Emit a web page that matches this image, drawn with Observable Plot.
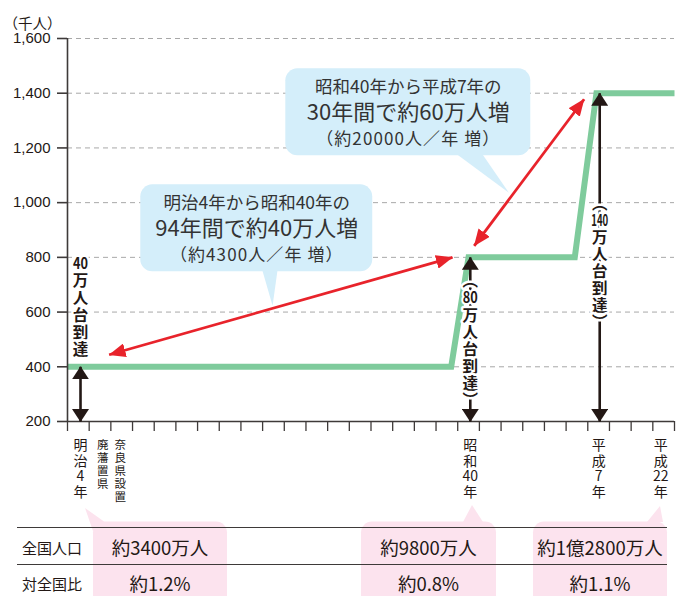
<!DOCTYPE html>
<html>
<head>
<meta charset="utf-8">
<script src="https://cdn.jsdelivr.net/npm/d3@7"></script>
<script src="https://cdn.jsdelivr.net/npm/@observablehq/plot@0.6"></script>
<style>
  html, body { margin: 0; padding: 0; background: #fff; }
  #wrap { position: relative; width: 688px; height: 596px; overflow: hidden; font-family: "Noto Sans CJK JP", sans-serif; color: #231815; }
  #chart { position: absolute; left: 0; top: 0; }
  #table { position: absolute; left: 0; top: 0; width: 688px; height: 596px; }
  .cell { position: absolute; transform: translate(-50%, -50%); white-space: nowrap; }
  .rowlab { position: absolute; transform: translateY(-50%); font-size: 15px; white-space: nowrap; }
  .val { font-size: 18.5px; }
  .hline { position: absolute; left: 17px; width: 650px; height: 1.2px; background: #3e3a39; }
</style>
</head>
<body>
<div id="wrap">
  <div id="chart"></div>
  <div id="table"></div>
</div>
<script>
// ---------- data ----------
const yTicks = [200, 400, 600, 800, 1000, 1200, 1400, 1600];
const gridY = [400, 600, 800, 1000, 1200, 1400, 1600];
const xTicks = d3.range(0, 29);

// population step line (thousand people), x = schematic time index
const stepX = [0, 17.7, 18.5, 23.4, 24.4, 28];
const stepY = [400, 400, 800, 800, 1400, 1400];

// x labels
const eraLabels = ["明治4年", "昭和40年", "平成7年", "平成22年"];
const eraX = [0.6, 18.58, 24.5, 27.37];
const eventLabels = ["廃藩置県", "奈良県設置"];
const eventX = [1.63, 2.43];

// black "reached" arrows
const reachX = [0.6, 18.58, 24.55];
const reachTop = [400, 800, 1400];
const reachBottom = [200, 200, 200];
const reachLabels = ["40万人台到達", "（80万人台到達）", "（140万人台到達）"];
const reachLabelTop = [800, 738, 1022];

// red double arrows
const redX1 = [1.92, 18.76], redY1 = [444, 842];
const redX2 = [17.76, 23.83], redY2 = [800, 1378];

// callouts
const calloutX1 = [3.38, 10.07], calloutX2 = [14.08, 21.37];
const calloutY1 = [747, 1171], calloutY2 = [1065, 1489];
const calloutLine1 = ["明治4年から昭和40年の", "昭和40年から平成7年の"];
const calloutLine2 = ["94年間で約40万人増", "30年間で約60万人増"];
const calloutLine3 = ["（約4300人／年 増）", "（約20000人／年 増）"];
const tailX = [[8.96, 9.70, 9.46], [17.82, 19.07, 20.36]];
const tailY = [[760, 760, 623], [1185, 1185, 1036]];

// table
const rowLabels = ["全国人口", "対全国比"];
const nationalPop = ["約3400万人", "約9800万人", "約1億2800万人"];
const shareOfNation = ["約1.2%", "約0.8%", "約1.1%"];

// ---------- helpers ----------
const NS = "http://www.w3.org/2000/svg";
function vert(s) {
  return s.replace("（", "︵").replace("）", "︶").match(/[0-9]+|./gu).join("\n");
}
function headMarker(len, wid) {
  return (color, context) => {
    const doc = (context && context.document) || document;
    const m = doc.createElementNS(NS, "marker");
    m.setAttribute("viewBox", `0 ${-wid / 2} ${len} ${wid}`);
    m.setAttribute("markerUnits", "userSpaceOnUse");
    m.setAttribute("markerWidth", len);
    m.setAttribute("markerHeight", wid);
    m.setAttribute("refX", len - 0.5);
    m.setAttribute("refY", 0);
    m.setAttribute("orient", "auto-start-reverse");
    m.setAttribute("fill", color);
    m.setAttribute("stroke", "none");
    const p = doc.createElementNS(NS, "path");
    p.setAttribute("d", `M0,${-wid / 2}L${len},0L0,${wid / 2}Z`);
    m.appendChild(p);
    return m;
  };
}
function safeLink(data, opts, len, wid) {
  try {
    return Plot.link(data, {...opts, markerStart: headMarker(len, wid), markerEnd: headMarker(len, wid)});
  } catch (e) {
    return Plot.link(data, {...opts, markerStart: "arrow", markerEnd: "arrow"});
  }
}

// ---------- tables for marks ----------
const step = stepX.map((x, i) => ({x, y: stepY[i]}));
const eras = eraLabels.map((t, i) => ({x: eraX[i], t: vert(t)}));
const events = eventLabels.map((t, i) => ({x: eventX[i], t: vert(t)}));
const reach = reachX.map((x, i) => ({x, y1: reachTop[i], y2: reachBottom[i], t: vert(reachLabels[i]), ty: reachLabelTop[i]}));
const reds = redX1.map((x, i) => ({x1: x, y1: redY1[i], x2: redX2[i], y2: redY2[i]}));
const callouts = calloutX1.map((x1, i) => ({
  x1, x2: calloutX2[i], y1: calloutY1[i], y2: calloutY2[i],
  cx: (x1 + calloutX2[i]) / 2, cy: (calloutY1[i] + calloutY2[i]) / 2,
  l1: calloutLine1[i], l2: calloutLine2[i], l3: calloutLine3[i]
}));
const tails = tailX.flatMap((xs, k) => xs.map((x, j) => ({k, x, y: tailY[k][j]})));

const ink = "#231815";
const blue = "#d4eefa";
const cjk = "Noto Sans CJK JP";

const plot = Plot.plot({
  width: 688,
  height: 505,
  marginLeft: 67,
  marginRight: 14,
  marginTop: 38,
  marginBottom: 84,
  x: {type: "linear", domain: [0, 28], axis: null},
  y: {domain: [200, 1600], axis: null},
  style: {fontFamily: cjk, color: ink, background: "white", overflow: "visible"},
  marks: [
    Plot.ruleY(gridY, {stroke: "#a8a8a8", strokeWidth: 1, strokeDasharray: "5,4"}),
    // callouts
    Plot.rect(callouts, {x1: "x1", x2: "x2", y1: "y1", y2: "y2", fill: blue, rx: 12}),
    Plot.line(tails, {x: "x", y: "y", z: "k", fill: blue, stroke: null, curve: "linear-closed"}),
    Plot.text(callouts, {x: "cx", y: "cy", text: "l1", dy: -25, fontSize: 17.5, fill: "#333"}),
    Plot.text(callouts, {x: "cx", y: "cy", text: "l2", dy: 1, fontSize: 22, fill: "#333"}),
    Plot.text(callouts, {x: "cx", y: "cy", text: "l3", dy: 27.5, fontSize: 17, fill: "#333"}),
    // population line
    Plot.line(step, {x: "x", y: "y", stroke: "#7fcb9c", strokeWidth: 6, strokeLinejoin: "miter", strokeLinecap: "butt", strokeMiterlimit: 4}),
    // axes
    Plot.ruleX([0], {y1: 200, y2: 1600, stroke: "#3e3a39", strokeWidth: 1.6}),
    Plot.ruleY([200], {stroke: "#3e3a39", strokeWidth: 1.6}),
    Plot.axisY({ticks: yTicks, tickFormat: d3.format(","), tickSize: 10, tickPadding: 7, fontSize: 15, fontFamily: "Liberation Sans", stroke: "#3e3a39", strokeWidth: 1.6, color: ink, label: null}),
    Plot.axisX({ticks: xTicks, tickFormat: () => "", tickSize: 10, tickPadding: 0, stroke: "#3e3a39", strokeWidth: 1.3, label: null}),
    Plot.text(["（千人）"], {frameAnchor: "top-left", dx: -64, dy: -20, textAnchor: "start", fontSize: 14.5, fill: ink}),
    // x labels
    Plot.text(eras, {x: "x", y: 200, text: "t", lineAnchor: "top", dy: 18, fontSize: 14, lineHeight: 1.1, fill: ink}),
    Plot.text(events, {x: "x", y: 200, text: "t", lineAnchor: "top", dy: 18, fontSize: 11.5, lineHeight: 1.13, fill: ink}),
    // black arrows
    safeLink(reach, {x1: "x", x2: "x", y1: "y1", y2: "y2", stroke: ink, strokeWidth: 2.6}, 13, 17),
    Plot.text(reach, {x: "x", y: "ty", text: "t", lineAnchor: "top", fontSize: 15.5, lineHeight: 1.1, fontWeight: "bold", fill: ink, stroke: "white", strokeWidth: 5}),
    // red arrows
    safeLink(reds, {x1: "x1", y1: "y1", x2: "x2", y2: "y2", stroke: "#e8232b", strokeWidth: 2.8}, 17, 14)
  ]
});
document.getElementById("chart").appendChild(plot);

// condense the numeric groups of the vertical "reached" labels
plot.querySelectorAll('g[font-weight="bold"] tspan, g[font-weight="bold"] text').forEach(el => {
  if (el.children.length) return;
  const s = el.textContent.trim();
  if (/^[0-9]+$/.test(s)) {
    el.setAttribute("textLength", s.length >= 3 ? 17 : 15);
    el.setAttribute("lengthAdjust", "spacingAndGlyphs");
  }
});
// wider tracking on the third callout line
plot.querySelectorAll("text").forEach(el => {
  if (el.textContent.includes("／")) el.setAttribute("letter-spacing", "1.1");
});

// ---------- table below the chart ----------
const tbl = document.getElementById("table");
const boxLeft = [93, 361, 533], boxWidth = [134, 135, 134];
const tailPolys = [
  "85,508 104,521.5 93,531",
  "472,505 463,522 483,522",
  "660,506 647,522 663,522"
];
let svg = `<svg width="688" height="596" style="position:absolute;left:0;top:0">`;
boxLeft.forEach((l, i) => {
  svg += `<rect x="${l}" y="521.5" width="${boxWidth[i]}" height="90" rx="11" fill="#fce3ee"/>`;
  svg += `<polygon points="${tailPolys[i]}" fill="#fce3ee"/>`;
});
svg += `</svg>`;
tbl.innerHTML = svg;
[526.5, 564].forEach(t => {
  const d = document.createElement("div");
  d.className = "hline"; d.style.top = t + "px"; tbl.appendChild(d);
});
const rowY = [547, 583];
rowLabels.forEach((t, r) => {
  const d = document.createElement("div");
  d.className = "rowlab"; d.textContent = t;
  d.style.left = "22px"; d.style.top = rowY[r] + "px";
  tbl.appendChild(d);
});
[nationalPop, shareOfNation].forEach((vals, r) => {
  vals.forEach((t, i) => {
    const d = document.createElement("div");
    d.className = "cell val"; d.textContent = t;
    d.style.left = (boxLeft[i] + boxWidth[i] / 2) + "px";
    d.style.top = rowY[r] + "px";
    tbl.appendChild(d);
  });
});
</script>
</body>
</html>
